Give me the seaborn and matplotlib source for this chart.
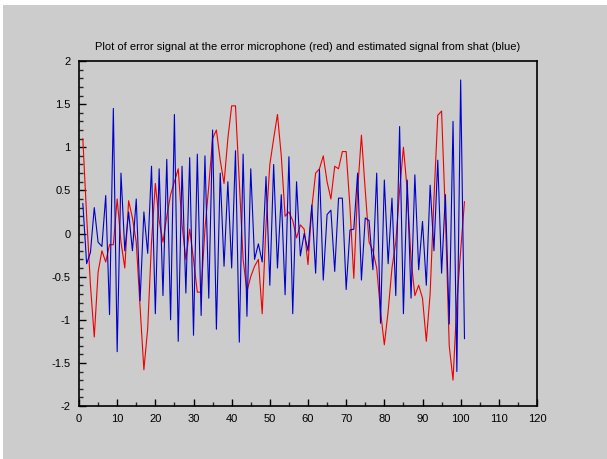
import matplotlib
matplotlib.use("Agg")
import matplotlib.pyplot as plt
import matplotlib.patches as mpatches
from matplotlib.ticker import MultipleLocator
import numpy as np
import pandas as pd
import seaborn as sns

# ---- data ----
sample = list(range(1, 102))

error_red = [1.1, 0.2, -0.6, -1.2, -0.45, -0.2, -0.33, -0.13, -0.13, 0.4,
             -0.1, -0.4, 0.38, 0.18, -0.1, -0.85, -1.58, -1.1, -0.1, 0.58,
             0.15, -0.1, 0.2, 0.45, 0.6, 0.75, 0.1, -0.3, 0.05, -0.3,
             -0.68, -0.68, 0.05, 0.55, 1.1, 1.2, 0.85, 0.58, 1.1, 1.48,
             1.48, 0.6, -0.3, -0.67, -0.5, -0.38, -0.3, -0.93, 0.1, 0.8,
             1.1, 1.38, 0.9, 0.2, 0.25, 0.15, -0.05, 0.1, 0.05, -0.36,
             0.3, 0.7, 0.75, 0.9, 0.6, 0.4, 0.78, 0.75, 0.95, 0.95,
             0.3, -0.52, 0.5, 1.14, 0.5, -0.1, -0.2, -0.4, -0.9, -1.29,
             -0.9, -0.4, -0.1, 0.5, 1.0, 0.5, -0.3, -0.72, -0.6, -0.75,
             -1.25, -0.7, 0.4, 1.37, 1.42, 0.2, -1.3, -1.7, -0.8, -0.2,
             0.37]

estimate_blue = [0.35, -0.35, -0.22, 0.3, -0.1, -0.15, 0.44, -0.94, 1.45, -1.37,
                 0.7, -0.2, 0.25, -0.2, 0.4, -0.78, 0.25, -0.23, 0.78, -0.93,
                 0.75, -0.72, 0.86, -1.0, 1.38, -1.25, 0.78, -0.69, 0.88, -1.18,
                 0.92, -0.95, 0.9, -0.75, 1.2, -1.11, 0.7, -0.38, 0.6, -0.4,
                 0.96, -1.26, 0.92, -0.96, 0.75, -0.3, -0.12, -0.33, 0.66, -0.6,
                 0.8, -0.4, 0.45, -0.71, 0.89, -0.93, 0.6, -0.26, 0.0, -0.2,
                 0.33, -0.46, 0.74, -0.54, 0.22, 0.27, -0.44, 0.41, 0.41, -0.65,
                 0.04, 0.05, 0.7, -0.54, 0.18, 0.15, -0.42, 0.7, -1.04, 0.62,
                 -0.35, 0.41, -0.72, 1.24, -0.93, 0.62, -0.75, 0.68, -0.42, 0.14,
                 -0.6, 0.56, -0.2, 0.85, -0.46, 0.45, -1.05, 1.3, -1.6, 1.78,
                 -1.22]

x_ticks = [0, 10, 20, 30, 40, 50, 60, 70, 80, 90, 100, 110, 120]
y_ticks = [-2, -1.5, -1, -0.5, 0, 0.5, 1, 1.5, 2]
y_tick_labels = ["-2", "-1.5", "-1", "-0.5", "0", "0.5", "1", "1.5", "2"]
title = "Plot of error signal at the error microphone (red) and estimated signal from shat (blue)"

# ---- styling ----
sns.set_style("ticks")
plt.rcParams['font.family'] = ['Liberation Sans', 'DejaVu Sans']
plt.rcParams['axes.unicode_minus'] = False

GRAY = "#cccccc"
W, H = 607, 459
fig = plt.figure(figsize=(W / 100, H / 100), dpi=100, facecolor="white")

# gray window background (white strip at top/left like the screenshot)
fig.patches.append(mpatches.Rectangle((3 / W, 0), 1 - 3 / W, 1 - 5 / H,
                                      transform=fig.transFigure,
                                      facecolor=GRAY, edgecolor="none", zorder=-5))
# cut-off text of the page above the screenshot
fig.text(-4 / W, 1 + 8 / H, "by running", fontsize=17, color="black",
         ha="left", va="baseline", family=['DejaVu Sans'], zorder=-4)

ax = fig.add_axes([79 / W, 1 - 406 / H, (537 - 79) / W, (406 - 61) / H])
ax.set_facecolor(GRAY)

df = pd.DataFrame({"x": sample, "red": error_red, "blue": estimate_blue})
sns.lineplot(data=df, x="x", y="red", ax=ax, color="#ee0000", linewidth=0.8)
sns.lineplot(data=df, x="x", y="blue", ax=ax, color="#0000cc", linewidth=0.8)

ax.set_xlim(0, 120)
ax.set_ylim(-2, 2)
ax.set_xticks(x_ticks)
ax.set_xticklabels([str(t) for t in x_ticks])
ax.set_yticks(y_ticks)
ax.set_yticklabels(y_tick_labels)
ax.xaxis.set_minor_locator(MultipleLocator(5))
ax.yaxis.set_minor_locator(MultipleLocator(0.1))
ax.tick_params(which="major", direction="in", length=5, width=1, labelsize=8,
               colors="black", top=False, right=False)
ax.tick_params(axis="x", which="major", pad=6)
ax.tick_params(axis="y", which="major", pad=6)
ax.tick_params(which="minor", direction="in", length=3, width=1,
               top=False, right=False)
ax.set_xlabel("")
ax.set_ylabel("")
for s in ax.spines.values():
    s.set_visible(True)
    s.set_color("black")
    s.set_linewidth(1.2)

ax.set_title(title, fontsize=8, pad=8, color="black")

fig.savefig("out.png", dpi=100, facecolor="white")
